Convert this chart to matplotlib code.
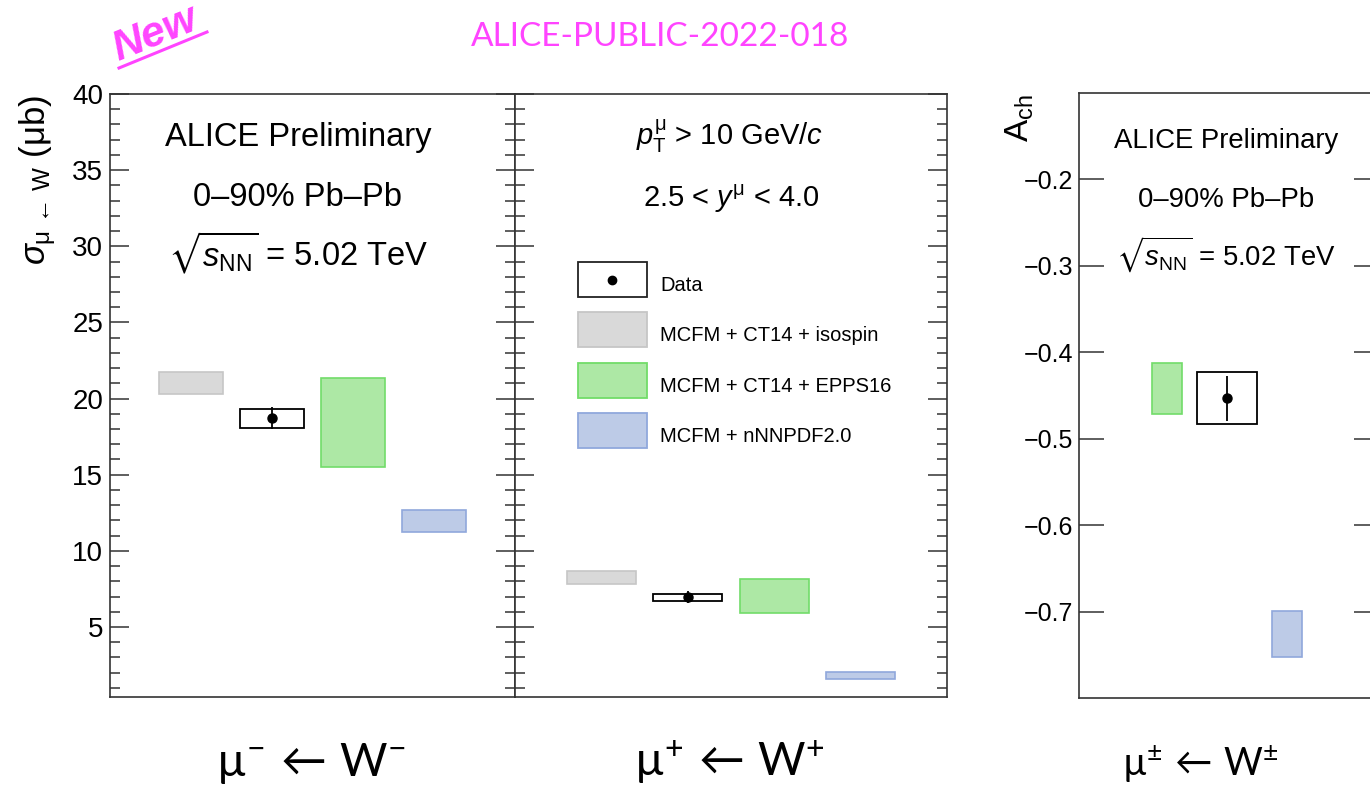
import numpy as np
import matplotlib
matplotlib.use("Agg")
import matplotlib.pyplot as plt
import matplotlib.transforms as mtransforms
from matplotlib.patches import Rectangle
from matplotlib.lines import Line2D
from matplotlib.ticker import MultipleLocator, FuncFormatter

plt.rcParams['font.family'] = ['Liberation Sans', 'DejaVu Sans']
plt.rcParams['mathtext.fontset'] = 'custom'
plt.rcParams['mathtext.rm'] = 'Liberation Sans'
plt.rcParams['mathtext.it'] = 'Liberation Sans:italic'
plt.rcParams['mathtext.bf'] = 'Liberation Sans:bold'
plt.rcParams['mathtext.sf'] = 'Liberation Sans'
plt.rcParams['mathtext.fallback'] = 'stix'

# models compared with data
models = ["MCFM + CT14 + isospin", "MCFM + CT14 + EPPS16", "MCFM + nNNPDF2.0"]
model_fill = ['#d9d9d9', '#ade8a5', '#bdcbe7']
model_edge = ['#c6c6c6', '#72dc69', '#90a8dc']

# mu- <- W- cross section (mub): value, stat. error, syst. box
wm_val, wm_stat = 18.73, 0.72
wm_syst = (18.07, 19.32)
wm_models = [(20.30, 21.75), (15.50, 21.35), (11.25, 12.68)]

# mu+ <- W+ cross section (mub)
wp_val, wp_stat = 6.97, 0.40
wp_syst = (6.71, 7.17)
wp_models = [(7.83, 8.68), (5.92, 8.15), (1.59, 2.05)]

# charge asymmetry A_ch (no isospin band)
ach_val, ach_stat = -0.453, 0.026
ach_syst = (-0.483, -0.423)
ach_models = [None, (-0.471, -0.412), (-0.753, -0.699)]

W, H = 1370, 786
fig = plt.figure(figsize=(W / 100, H / 100), dpi=100)
# pixel coordinates measured from the top-left corner
px = mtransforms.Affine2D().scale(1 / W, -1 / H).translate(0, 1) + fig.transFigure


def px_axes(x0, x1, y0, y1):
    return fig.add_axes([x0 / W, 1 - y1 / H, (x1 - x0) / W, (y1 - y0) / H])


def style(ax, labels=True):
    for s in ax.spines.values():
        s.set_linewidth(1.2)
        s.set_color('#333333')
    ax.set_xlim(0, 5)
    ax.set_xticks([])
    ax.tick_params(axis='y', which='both', direction='in', left=True, right=True,
                   color='#333333', width=1.1, labelleft=labels)
    ax.tick_params(axis='y', which='major', length=14)
    ax.tick_params(axis='y', which='minor', length=7)


def draw_panel(ax, val, stat, syst, bands, xs, ws):
    # xs/ws: positions and widths for [isospin, data, EPPS16, nNNPDF]
    order = [0, None, 1, 2]
    for k, m in enumerate(order):
        if m is None:
            ax.bar(xs[k], syst[1] - syst[0], bottom=syst[0], width=ws[k],
                   facecolor='none', edgecolor='black', linewidth=1.3, zorder=3)
            ax.errorbar(xs[k], val, yerr=stat, fmt='o', color='black', ms=6.5,
                        elinewidth=1.3, capsize=0, zorder=4)
        elif bands[m] is not None:
            lo, hi = bands[m]
            ax.bar(xs[k], hi - lo, bottom=lo, width=ws[k], facecolor=model_fill[m],
                   edgecolor=model_edge[m], linewidth=1.2, zorder=2)


ax1 = px_axes(110, 515, 94, 697)
ax2 = px_axes(515, 947, 94, 697)
ax3 = px_axes(1079, 1379, 93, 698)

for ax in (ax1, ax2):
    style(ax, labels=(ax is ax1))
    ax.set_ylim(0.4, 40)
    ax.yaxis.set_major_locator(MultipleLocator(5))
    ax.yaxis.set_minor_locator(MultipleLocator(1))
    ax.tick_params(axis='y', labelsize=20, pad=5)

style(ax3)
ax3.set_ylim(-0.8, -0.1)
ax3.set_yticks(np.arange(-0.7, -0.15, 0.1))
ax3.yaxis.set_major_formatter(FuncFormatter(lambda v, _: f'{v:.1f}'.replace('-', '\u2212')))
ax3.tick_params(axis='y', labelsize=18, pad=4)
ax3.tick_params(axis='y', which='major', length=18)

draw_panel(ax1, wm_val, wm_stat, wm_syst, wm_models, [1, 2, 3, 4], [0.8] * 4)
draw_panel(ax2, wp_val, wp_stat, wp_syst, wp_models, [1, 2, 3, 4], [0.8] * 4)
draw_panel(ax3, ach_val, ach_stat, ach_syst, ach_models,
           [0.47, 2.47, 1.47, 3.47], [0.5, 1.0, 0.5, 0.5])

# y axis titles
fig.text(38, 95, r'$\sigma_{\mathrm{μ}\,\leftarrow\,\mathrm{W}}$ (μb)', transform=px,
         rotation=90, ha='center', va='top', fontsize=25)
fig.text(1020, 94, r'$\mathrm{A}_{\mathrm{ch}}$', transform=px, rotation=90,
         ha='center', va='top', fontsize=24)

# panel texts
fig.text(298, 146, 'ALICE Preliminary', transform=px, ha='center', va='baseline', fontsize=23.5)
fig.text(298, 206, '0–90% Pb–Pb', transform=px, ha='center', va='baseline', fontsize=23.5)
fig.text(298, 266, r'$\sqrt{s_{\mathrm{NN}}}$ = 5.02 TeV', transform=px, ha='center',
         va='baseline', fontsize=23.5)

fig.text(730, 145, r'$p_{\mathrm{T}}^{\mathrm{μ}}$ > 10 GeV/$c$', transform=px, ha='center',
         va='baseline', fontsize=21)
fig.text(731, 207, r'2.5 < $y^{\mathrm{μ}}$ < 4.0', transform=px, ha='center', va='baseline',
         fontsize=21)

fig.text(1226, 148, 'ALICE Preliminary', transform=px, ha='center', va='baseline', fontsize=19.8)
fig.text(1226, 207, '0–90% Pb–Pb', transform=px, ha='center', va='baseline', fontsize=19.8)
fig.text(1226, 266, r'$\sqrt{s_{\mathrm{NN}}}$ = 5.02 TeV', transform=px, ha='center',
         va='baseline', fontsize=19.8)

# legend in the middle panel
rows = [262, 312, 363, 413]
labels = ['Data'] + models
for i, y0 in enumerate(rows):
    if i == 0:
        fc, ec = 'white', '#222222'
    else:
        fc, ec = model_fill[i - 1], model_edge[i - 1]
    fig.add_artist(Rectangle((578, y0), 69, 35, transform=px, facecolor=fc,
                             edgecolor=ec, linewidth=1.3))
    fig.text(660, y0 + 29, labels[i], transform=px, ha='left', va='baseline', fontsize=14.5)
fig.add_artist(Line2D([612.5], [279.5], transform=px, marker='o', ms=6, color='black'))

# x category labels
cat_labels = [r'$\mathregular{µ^{-}\,\leftarrow\,W^{-}}$',
              r'$\mathregular{µ^{+}\,\leftarrow\,W^{+}}$',
              r'$\mathregular{µ^{\pm}\,\leftarrow\,W^{\pm}}$']
fig.text(311, 776, cat_labels[0], transform=px, ha='center', va='baseline',
         fontsize=33, family=['Lato', 'DejaVu Sans'])
fig.text(729, 776, cat_labels[1], transform=px, ha='center', va='baseline',
         fontsize=33, family=['Lato', 'DejaVu Sans'])
fig.text(1200, 776, cat_labels[2], transform=px, ha='center', va='baseline',
         fontsize=27, family=['Lato', 'DejaVu Sans'])

# header
fig.text(660, 46, 'ALICE-PUBLIC-2022-018', transform=px, ha='center', va='baseline',
         fontsize=24, color='#ff44ff', family=['Lato', 'DejaVu Sans'])
fig.text(155, 34, 'New', transform=px, ha='center', va='center', rotation=22,
         fontsize=31, color='#ff44ff', fontweight='bold', fontstyle='italic')
fig.add_artist(Line2D([119, 207], [68, 32], transform=px, color='#ff44ff', linewidth=2.2))

fig.savefig('out.png', dpi=100)
